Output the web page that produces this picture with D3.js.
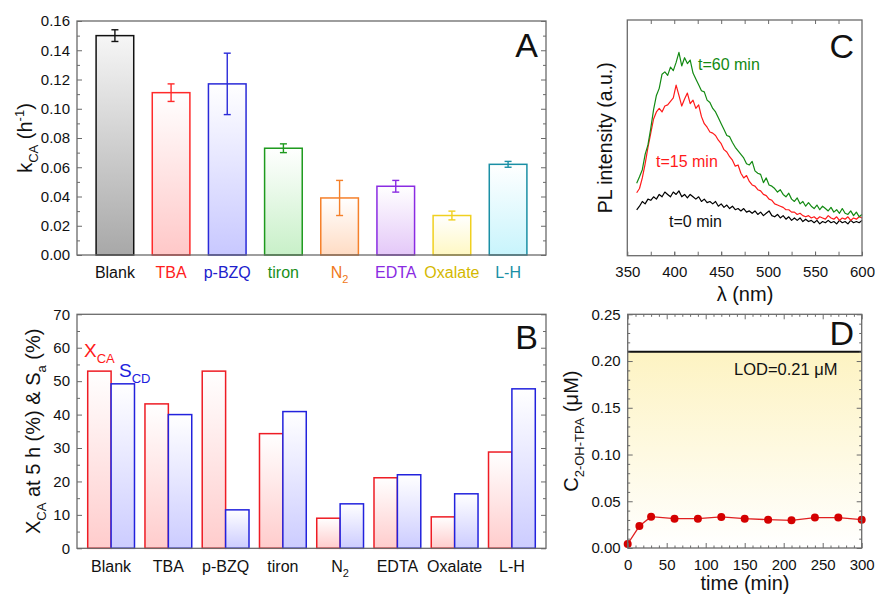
<!DOCTYPE html>
<html><head><meta charset="utf-8">
<script src="https://cdn.jsdelivr.net/npm/d3@7"></script>
<style>body{margin:0;background:#fff} svg{font-family:"Liberation Sans",Arial,sans-serif}</style>
</head><body>
<svg id="chart" width="875" height="600"></svg>
<script>
// ---------- DATA ----------
const categories = ["Blank","TBA","p-BZQ","tiron","N2","EDTA","Oxalate","L-H"];
const kValues  = [0.150, 0.111, 0.117, 0.073, 0.039, 0.047, 0.027, 0.062];
const kErrors  = [0.004, 0.006, 0.021, 0.003, 0.012, 0.004, 0.003, 0.002];
const kTicks   = [0, 0.02, 0.04, 0.06, 0.08, 0.10, 0.12, 0.14, 0.16];

const xcaValues = [53.0, 43.2, 53.0, 34.3, 9.0, 21.1, 9.4, 28.8];
const scdValues = [49.2, 40.0, 11.5, 40.9, 13.3, 22.0, 16.3, 47.7];
const bTicks    = [0, 10, 20, 30, 40, 50, 60, 70];

const wavelengths = [360,363,366,369,372,375,378,381,384,387,390,393,396,399,402,405,408,411,414,417,420,423,426,429,432,435,438,441,444,447,450,453,456,459,462,465,468,471,474,477,480,483,486,489,492,495,498,501,504,507,510,513,516,519,522,525,528,531,534,537,540,543,546,549,552,555,558,561,564,567,570,573,576,579,582,585,588,591,594,597,600];
const pl60 = [30.7,33.5,36.5,43,47,54,62,68,71,77,78,76.5,80,78.5,82,86.3,80.5,84,81.5,83,77.5,75,72.5,70,69.5,66,65,62.5,61,58.5,56,53.5,51,50.5,48,46,44.5,43,41.5,39,38.5,40,36,35,34.5,31,33,30,29.5,28.5,27,28,26,25,26.5,24,23,24.5,22,23,21,22.5,21,20,21.5,19.5,21,20,19,20.5,18.5,19.5,18,20,18,17.5,19,17,18.5,16.5,17.5];
const pl15 = [26.7,28.5,33,39,46,52,58,61,62.5,61,63.5,64,65.5,67,72.4,68,63.5,66.5,69,64.5,66,62.5,64,59,56,54.5,52.5,52,51,49,47.5,45,44,42,40.5,38,38.5,35,33,34,31.5,30,29.5,28,27.5,26,25.5,24,23.5,22,21.5,21,20.5,19.5,19.5,18.5,18.5,17.5,18,17,16.5,17,16,16.5,15.5,16.5,16,15.5,17,16,15.5,16.5,15,16,15.5,16.5,15,16,15.5,16.5,16];
const pl0  = [19.4,21,23,22,24,23.5,25,24,26,25,27,26,25,27,26,27.5,25,26,24.5,26,25,24,25,23,24,22.5,23,22,23,21,22,20.5,21.5,20,21,19.5,20,19,20,18.5,19,18,19,17.5,18.5,17,18,19,17,16.5,17.5,16,17,15.5,16.5,15,16,15,16,14.5,15.5,14.5,15,14,15,13.5,14.5,14,15,14,14.5,13.5,15,14,14.5,13.5,15,14,14.5,14,15];
const cTicks = [350, 400, 450, 500, 550, 600];

const timeMin  = [0, 15, 30, 60, 90, 120, 150, 180, 210, 240, 270, 300];
const c2OHTPA  = [0.0043, 0.0235, 0.0335, 0.0314, 0.0314, 0.0332, 0.0314, 0.0303, 0.0296, 0.0325, 0.0325, 0.0303];
const lodValue = 0.21;
const dXTicks  = [0, 50, 100, 150, 200, 250, 300];
const dYTicks  = [0, 0.05, 0.10, 0.15, 0.20, 0.25];

// ---------- STYLE ----------
const strokeColors = ["#111111","#ff2a2a","#2a2ad8","#1e9a1e","#f5802a","#8a2be2","#f0d020","#1a8fa5"];
const fillColors   = ["#a8a8a8","#ffc8c8","#c8c8ff","#c8f0c8","#ffdcc4","#e4c8f8","#fff8c4","#c8f4fc"];
const labelColors  = ["#111111","#ff2020","#2020cc","#1a8f1a","#f07820","#8a2be2","#d4b800","#1a8fa5"];
const axisColor = "#6a6a6a";

const svg = d3.select("#chart");
const defs = svg.append("defs");
function vgrad(id, top, bottom){
  const g = defs.append("linearGradient").attr("id", id).attr("x1",0).attr("y1",0).attr("x2",0).attr("y2",1);
  g.append("stop").attr("offset","0%").attr("stop-color", top);
  g.append("stop").attr("offset","100%").attr("stop-color", bottom);
}
fillColors.forEach((c,i)=> vgrad("ga"+i, i===0 ? "#f6f6f6" : "#ffffff", c));
vgrad("gRed","#ffffff","#ffcccc");
vgrad("gBlue","#ffffff","#ccccff");
vgrad("gLod","#fdf3c2","#ffffff");

function rich(textSel, parts, size, subSize){
  let cur = 0;
  parts.forEach(p=>{
    const target = p.sub ? size*0.32 : (p.sup ? -size*0.38 : 0);
    const ts = textSel.append("tspan").text(p.t).attr("dy", target - cur);
    if (p.sub || p.sup) ts.attr("font-size", subSize);
    cur = target;
  });
}
function frame(x0,x1,y0,y1){
  svg.append("rect").attr("x",x0).attr("y",y0).attr("width",x1-x0).attr("height",y1-y0)
    .attr("fill","none").attr("stroke",axisColor).attr("stroke-width",1.3);
}
function styleAxis(g, fontSize){
  g.select(".domain").remove();
  g.selectAll(".tick line").attr("stroke", axisColor).attr("stroke-width",1);
  g.selectAll("text").attr("font-size", fontSize).attr("fill","#111").attr("font-family","Liberation Sans, Arial, sans-serif");
}
function minorTicks(axisFn, scale, vals, pos, len){
  const g = svg.append("g").attr("transform", pos).call(axisFn(scale).tickValues(vals).tickSize(-len).tickFormat(""));
  styleAxis(g, 0); g.selectAll("text").remove();
}
function catLabels(g){
  g.selectAll(".tick text").each(function(d){
    if (d === "N2"){
      const t = d3.select(this); t.text("");
      t.append("tspan").text("N");
      t.append("tspan").text("2").attr("font-size", 11).attr("dy", 5);
    }
  });
}

// ================= PANEL A =================
{
  const L=77,R=546,T=21,B=255;
  const x = d3.scaleBand().domain(categories).range([L,R]).paddingInner(0.33).paddingOuter(0.34);
  const y = d3.scaleLinear().domain([0,0.16]).range([B,T]);
  svg.append("g").selectAll("rect").data(categories).join("rect")
    .attr("x", d=>x(d)).attr("width", x.bandwidth())
    .attr("y", (d,i)=>y(kValues[i])).attr("height",(d,i)=>B-y(kValues[i]))
    .attr("fill",(d,i)=>`url(#ga${i})`).attr("stroke",(d,i)=>strokeColors[i]).attr("stroke-width",1.5);
  const eg = svg.append("g");
  categories.forEach((d,i)=>{
    const cx = x(d)+x.bandwidth()/2, hi=y(kValues[i]+kErrors[i]), lo=y(kValues[i]-kErrors[i]);
    eg.append("line").attr("x1",cx).attr("x2",cx).attr("y1",hi).attr("y2",lo).attr("stroke",strokeColors[i]).attr("stroke-width",1.4);
    [hi,lo].forEach(yy=> eg.append("line").attr("x1",cx-3.5).attr("x2",cx+3.5).attr("y1",yy).attr("y2",yy).attr("stroke",strokeColors[i]).attr("stroke-width",1.4));
  });
  frame(L,R,T,B);
  const ya = svg.append("g").attr("transform",`translate(${L},0)`)
    .call(d3.axisLeft(y).tickValues(kTicks).tickSize(-5).tickPadding(7).tickFormat(d3.format(".2f")));
  styleAxis(ya, 15);
  const yr = svg.append("g").attr("transform",`translate(${R},0)`).call(d3.axisRight(y).tickValues(kTicks).tickSize(-5).tickFormat(""));
  styleAxis(yr,0);
  const minorsA = d3.range(0.01,0.16,0.02);
  minorTicks(d3.axisLeft, y, minorsA, `translate(${L},0)`, 3);
  minorTicks(d3.axisRight, y, minorsA, `translate(${R},0)`, 3);
  const xa = svg.append("g").attr("transform",`translate(0,${B})`).call(d3.axisBottom(x).tickSize(0).tickPadding(11.5));
  styleAxis(xa, 16);
  xa.selectAll(".tick text").attr("fill",(d,i)=>labelColors[i]);
  catLabels(xa);
  const yl = svg.append("text").attr("transform",`translate(32,${(T+B)/2}) rotate(-90)`).attr("text-anchor","middle").attr("font-size",20).attr("fill","#111");
  rich(yl,[{t:"k"},{t:"CA",sub:true},{t:" (h"},{t:"-1",sup:true},{t:")"}],20,13);
  svg.append("text").attr("x",538).attr("y",57).attr("text-anchor","end").attr("font-size",34).attr("fill","#111").text("A");
}

// ================= PANEL B =================
{
  const L=77,R=546,T=314.3,B=548.3;
  const x = d3.scaleBand().domain(categories).range([L,R]).paddingInner(0.183).paddingOuter(0.187);
  const xs = d3.scaleBand().domain(["xca","scd"]).range([0,x.bandwidth()]);
  const y = d3.scaleLinear().domain([0,70]).range([B,T]);
  const g = svg.append("g");
  g.selectAll(".r").data(categories).join("rect").attr("class","r")
    .attr("x",d=>x(d)+xs("xca")).attr("width",xs.bandwidth())
    .attr("y",(d,i)=>y(xcaValues[i])).attr("height",(d,i)=>B-y(xcaValues[i]))
    .attr("fill","url(#gRed)").attr("stroke","#ee1c24").attr("stroke-width",1.5);
  g.selectAll(".b").data(categories).join("rect").attr("class","b")
    .attr("x",d=>x(d)+xs("scd")).attr("width",xs.bandwidth())
    .attr("y",(d,i)=>y(scdValues[i])).attr("height",(d,i)=>B-y(scdValues[i]))
    .attr("fill","url(#gBlue)").attr("stroke","#2222dd").attr("stroke-width",1.5);
  frame(L,R,T,B);
  const ya = svg.append("g").attr("transform",`translate(${L},0)`)
    .call(d3.axisLeft(y).tickValues(bTicks).tickSize(-5).tickPadding(7).tickFormat(d3.format("d")));
  styleAxis(ya,15);
  const yr = svg.append("g").attr("transform",`translate(${R},0)`).call(d3.axisRight(y).tickValues(bTicks).tickSize(-5).tickFormat(""));
  styleAxis(yr,0);
  const minorsB = d3.range(5,70,10);
  minorTicks(d3.axisLeft, y, minorsB, `translate(${L},0)`, 3);
  minorTicks(d3.axisRight, y, minorsB, `translate(${R},0)`, 3);
  const xa = svg.append("g").attr("transform",`translate(0,${B})`).call(d3.axisBottom(x).tickSize(0).tickPadding(12));
  styleAxis(xa,16);
  catLabels(xa);
  const t1 = svg.append("text").attr("x",84).attr("y",357).attr("font-size",19).attr("fill","#ff1a1a");
  rich(t1,[{t:"X"},{t:"CA",sub:true}],19,13);
  const t2 = svg.append("text").attr("x",119).attr("y",377).attr("font-size",19).attr("fill","#2020dd");
  rich(t2,[{t:"S"},{t:"CD",sub:true}],19,13);
  const yl = svg.append("text").attr("transform",`translate(40,${(T+B)/2}) rotate(-90)`).attr("text-anchor","middle").attr("font-size",20).attr("fill","#111");
  rich(yl,[{t:"X"},{t:"CA",sub:true},{t:" at 5 h (%) & S"},{t:"a",sub:true},{t:" (%)"}],20,13);
  svg.append("text").attr("x",538).attr("y",349).attr("text-anchor","end").attr("font-size",34).attr("fill","#111").text("B");
}

// ================= PANEL C =================
{
  const L=627.3,R=862,T=20,B=255.7;
  const x = d3.scaleLinear().domain([350,600]).range([L,R]);
  const y = d3.scaleLinear().domain([0,100]).range([B,T]);
  const line = vals => d3.line().x((d,i)=>x(wavelengths[i])).y(d=>y(d))(vals);
  [[pl0,"#000000"],[pl15,"#ff1a1a"],[pl60,"#138a13"]].forEach(([v,c])=>{
    svg.append("path").attr("d",line(v)).attr("fill","none").attr("stroke",c).attr("stroke-width",1.2).attr("stroke-linejoin","round");
  });
  frame(L,R,T,B);
  const minorsC = d3.range(375,600,25);
  const xa = svg.append("g").attr("transform",`translate(0,${B})`)
    .call(d3.axisBottom(x).tickValues(cTicks).tickSize(-4).tickPadding(10.5).tickFormat(d3.format("d")));
  styleAxis(xa,15);
  minorTicks(d3.axisBottom, x, minorsC, `translate(0,${B})`, 4);
  minorTicks(d3.axisTop, x, minorsC, `translate(0,${T})`, 4);
  svg.append("text").attr("x",745).attr("y",301).attr("text-anchor","middle").attr("font-size",20).attr("fill","#111").text("λ (nm)");
  svg.append("text").attr("transform",`translate(612,${(T+B)/2}) rotate(-90)`).attr("text-anchor","middle").attr("font-size",19.5).attr("fill","#111").text("PL intensity (a.u.)");
  svg.append("text").attr("x",698).attr("y",70).attr("font-size",16).attr("fill","#138a13").text("t=60 min");
  svg.append("text").attr("x",656).attr("y",167).attr("font-size",16).attr("fill","#ff1a1a").text("t=15 min");
  svg.append("text").attr("x",669).attr("y",227).attr("font-size",16).attr("fill","#111").text("t=0 min");
  svg.append("text").attr("x",854).attr("y",58).attr("text-anchor","end").attr("font-size",34).attr("fill","#111").text("C");
}

// ================= PANEL D =================
{
  const L=627.7,R=861.7,T=314.3,B=548;
  const x = d3.scaleLinear().domain([0,300]).range([L,R]);
  const y = d3.scaleLinear().domain([0,0.25]).range([B,T]);
  svg.append("rect").attr("x",L).attr("y",y(lodValue)).attr("width",R-L).attr("height",B-y(lodValue)).attr("fill","url(#gLod)");
  svg.append("line").attr("x1",L).attr("x2",R).attr("y1",y(lodValue)).attr("y2",y(lodValue)).attr("stroke","#111").attr("stroke-width",2);
  svg.append("path").attr("d", d3.line().x((d,i)=>x(timeMin[i])).y(d=>y(d))(c2OHTPA))
    .attr("fill","none").attr("stroke","#e02020").attr("stroke-width",1.3);
  svg.append("g").selectAll("circle").data(c2OHTPA).join("circle")
    .attr("cx",(d,i)=>x(timeMin[i])).attr("cy",d=>y(d)).attr("r",4).attr("fill","#d40000");
  frame(L,R,T,B);
  const ya = svg.append("g").attr("transform",`translate(${L},0)`)
    .call(d3.axisLeft(y).tickValues(dYTicks).tickSize(-5).tickPadding(7).tickFormat(d3.format(".2f")));
  styleAxis(ya,15);
  const yr = svg.append("g").attr("transform",`translate(${R},0)`).call(d3.axisRight(y).tickValues(dYTicks).tickSize(-5).tickFormat(""));
  styleAxis(yr,0);
  const minorsDy = d3.range(0.01,0.25,0.01).filter(v=>Math.abs(v*20-Math.round(v*20))>1e-6);
  minorTicks(d3.axisLeft, y, minorsDy, `translate(${L},0)`, 2.5);
  minorTicks(d3.axisRight, y, minorsDy, `translate(${R},0)`, 2.5);
  const xa = svg.append("g").attr("transform",`translate(0,${B})`)
    .call(d3.axisBottom(x).tickValues(dXTicks).tickSize(-5).tickPadding(11).tickFormat(d3.format("d")));
  styleAxis(xa,15);
  const xt = svg.append("g").attr("transform",`translate(0,${T})`).call(d3.axisTop(x).tickValues(dXTicks).tickSize(-5).tickFormat(""));
  styleAxis(xt,0);
  const minorsDx = d3.range(10,300,10).filter(v=>v%50!==0);
  minorTicks(d3.axisBottom, x, minorsDx, `translate(0,${B})`, 2.5);
  minorTicks(d3.axisTop, x, minorsDx, `translate(0,${T})`, 2.5);
  svg.append("text").attr("x",734).attr("y",375).attr("font-size",16.5).attr("fill","#111").text("LOD=0.21 μM");
  svg.append("text").attr("x",745).attr("y",590).attr("text-anchor","middle").attr("font-size",20).attr("fill","#111").text("time (min)");
  const yl = svg.append("text").attr("transform",`translate(578,${(T+B)/2}) rotate(-90)`).attr("text-anchor","middle").attr("font-size",20).attr("fill","#111");
  rich(yl,[{t:"C"},{t:"2-OH-TPA",sub:true},{t:" (μM)"}],20,13);
  svg.append("text").attr("x",854).attr("y",345).attr("text-anchor","end").attr("font-size",34).attr("fill","#111").text("D");
}
</script>
</body></html>
